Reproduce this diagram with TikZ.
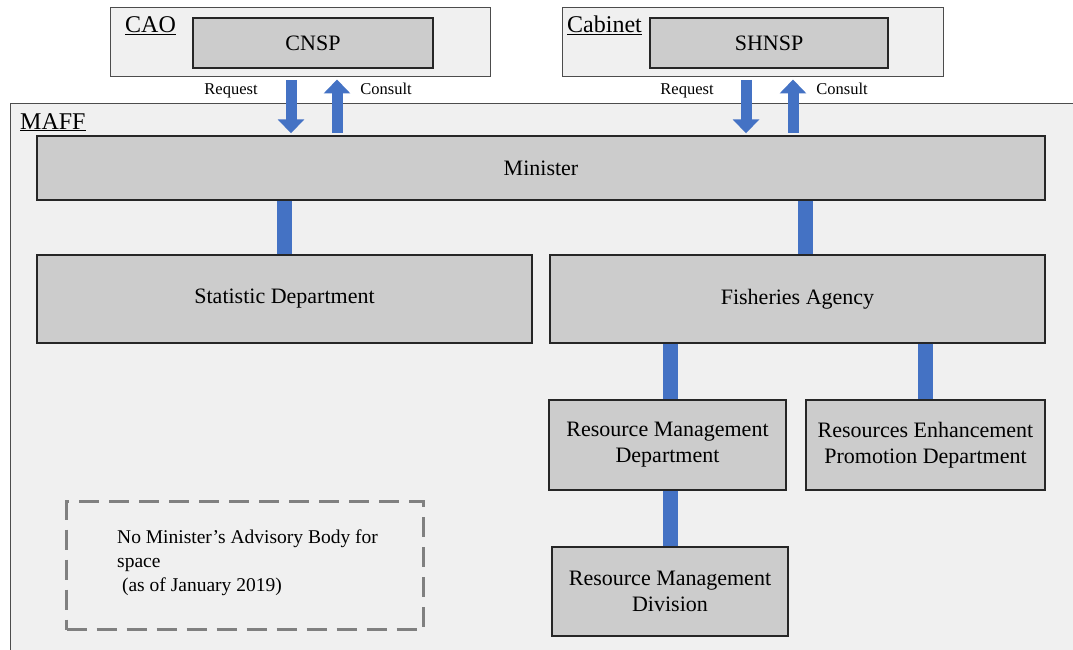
\documentclass[tikz,border=0pt]{standalone}
\usepackage{fontspec}
\setmainfont{Liberation Serif}
\usetikzlibrary{calc,arrows.meta}
\definecolor{paleg}{HTML}{F0F0F0}
\definecolor{boxg}{HTML}{CCCCCC}
\definecolor{linkb}{HTML}{4472C4}

\begin{document}
\begin{tikzpicture}[x=1pt,y=-1pt,line join=miter,
        unit/.style={draw=black!70,fill=paleg,line width=1pt,inner sep=0pt},
        box/.style={draw=black!85,fill=boxg,line width=1.4pt,align=center,inner sep=0pt,
                    font=\fontsize{22}{26}\selectfont},
        link/.style={draw=linkb,line width=15pt},
        flow/.style={draw=linkb,line width=11pt,shorten >=2pt,shorten <=2.5pt,
                     -{Triangle[width=26pt,length=14pt]}},
        lbl/.style={font=\fontsize{16.5}{20}\selectfont,inner sep=0pt,anchor=base},
        tag/.style={font=\fontsize{24}{28}\selectfont,inner sep=0pt,anchor=base west}]
    \useasboundingbox (0,0) rectangle (1073,650);
    \clip (0,0) rectangle (1073,650);

    \node[unit,minimum width=380pt,minimum height=69pt] (cao) at (300,42.5) {};
    \node[unit,minimum width=381pt,minimum height=69pt] (cab) at (752.5,42.5) {};
    \node[unit,minimum width=1100pt,minimum height=580pt,anchor=north west] (maff) at (10,103) {};
    \node[tag] (caotag) at (125,33) {\underline{CAO}};
    \node[tag] (cabtag) at (567,33) {\underline{Cabinet}};
    \node[tag] (mafftag) at (20,129) {\underline{MAFF}};

    \node[box,minimum width=240pt,minimum height=50pt] (cnsp) at (313,43) {CNSP};
    \node[box,minimum width=238pt,minimum height=50pt] (shnsp) at (769,43) {SHNSP};
    \node[box,minimum width=1008pt,minimum height=64pt] (min) at (541,168) {Minister};
    \node[box,minimum width=495pt,minimum height=88pt] (stat) at (284.5,299) {Statistic Department};
    \node[box,minimum width=495pt,minimum height=88pt] (fish) at (797.5,299) {Fisheries Agency};
    \node[box,minimum width=237pt,minimum height=90pt] (rmd) at (667.5,445) {Resource Management\\Department};
    \node[box,minimum width=239pt,minimum height=90pt] (repd) at (925.5,445) {Resources Enhancement\\Promotion Department};
    \node[box,minimum width=236pt,minimum height=89pt] (rmdiv) at (670,591.5) {Resource Management\\Division};

    \draw[link] (stat.north) -- (stat.north |- min.south);
    \draw[link] ([xshift=7.5pt]fish.north |- min.south) -- ([xshift=7.5pt]fish.north);
    \draw[link] ([xshift=2.5pt]rmd.north |- fish.south) -- ([xshift=2.5pt]rmd.north);
    \draw[link] (repd.north |- fish.south) -- (repd.north);
    \draw[link] (rmdiv.north |- rmd.south) -- (rmdiv.north);

    \draw[flow] ([xshift=-22pt]cnsp.south |- cao.south) -- ([xshift=-22pt]cnsp.south |- min.north);
    \draw[flow] ([xshift=24pt]cnsp.south |- min.north) -- ([xshift=24pt]cnsp.south |- cao.south);
    \draw[flow] ([xshift=-23pt]shnsp.south |- cab.south) -- ([xshift=-23pt]shnsp.south |- min.north);
    \draw[flow] ([xshift=24pt]shnsp.south |- min.north) -- ([xshift=24pt]shnsp.south |- cab.south);
    \node[lbl] (req1) at (231,95) {Request};
    \node[lbl] (con1) at (386,95) {Consult};
    \node[lbl] (req2) at (687,95) {Request};
    \node[lbl] (con2) at (842,95) {Consult};

    \node[draw=black!50,line width=3pt,dash pattern=on 20pt off 10pt,
          minimum width=357pt,minimum height=128pt,anchor=north west] (note) at (65,500) {};
    \node[font=\fontsize{19.5}{24}\selectfont,align=left,inner sep=0pt,anchor=west] (notetxt)
        at ([xshift=52pt,yshift=3pt]note.west) {No Minister's Advisory Body for\\space\\\ (as of January 2019)};
\end{tikzpicture}
\end{document}
